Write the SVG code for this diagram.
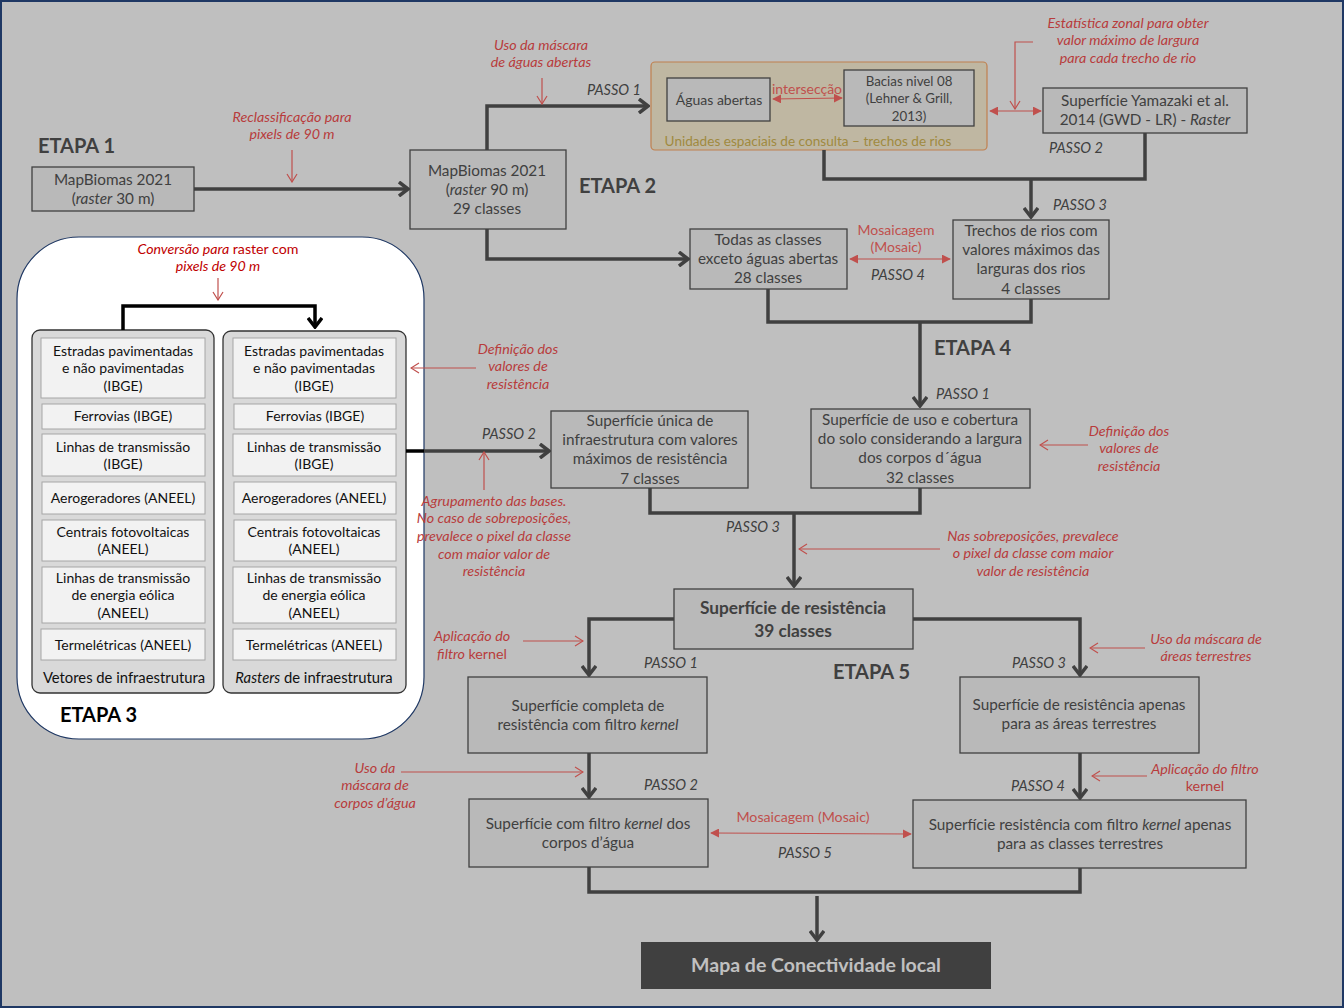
<svg xmlns="http://www.w3.org/2000/svg" width="1344" height="1008" viewBox="0 0 1344 1008">
<defs>
<style>
text{font-family:Lato,"Open Sans","Liberation Sans",sans-serif;}
.bg{fill:#bfbfbf;}
.node{fill:#b9b9b9;stroke:#404040;stroke-width:1.3;}
.t{font-size:15.3px;fill:#404040;text-anchor:middle;}
.ts{font-size:13.3px;fill:#404040;text-anchor:middle;}
.passo{font-size:14.5px;fill:#404040;font-style:italic;text-anchor:middle;}
.etapa{font-size:20px;font-weight:bold;fill:#404040;}
.red{font-size:14.3px;fill:#b83c3c;font-style:italic;text-anchor:middle;}
.conn{fill:none;stroke:#404040;stroke-width:3.5;}
.rc{fill:none;stroke:#c0504d;stroke-width:1.2;}
.inner{fill:#d9d9d9;stroke:#333;stroke-width:1.3;}
.item{fill:#f2f2f2;stroke:#a6a6a6;stroke-width:1;}
.it3{font-size:14px;fill:#111;text-anchor:middle;}
</style>
<marker id="ah" viewBox="0 0 12 16" refX="10" refY="8" markerWidth="12" markerHeight="16" markerUnits="userSpaceOnUse" orient="auto">
<polyline points="1,1 10,8 1,15" fill="none" stroke="#404040" stroke-width="3.5"/>
</marker>
<marker id="ahb" viewBox="0 0 12 16" refX="10" refY="8" markerWidth="12" markerHeight="16" markerUnits="userSpaceOnUse" orient="auto">
<polyline points="1,1 10,8 1,15" fill="none" stroke="#000" stroke-width="3.5"/>
</marker>
<marker id="ra" viewBox="0 0 10 12" refX="9" refY="6" markerWidth="10" markerHeight="12" markerUnits="userSpaceOnUse" orient="auto">
<polyline points="1,1 9,6 1,11" fill="none" stroke="#c0504d" stroke-width="1.2"/>
</marker>
<marker id="rf" viewBox="0 0 10 10" refX="9" refY="5" markerWidth="9" markerHeight="9" markerUnits="userSpaceOnUse" orient="auto-start-reverse">
<path d="M0,0 L10,5 L0,10 Z" fill="#c0504d"/>
</marker>
</defs>
<rect class="bg" x="0" y="0" width="1344" height="1008"/>
<rect x="1" y="1" width="1342" height="1006" fill="none" stroke="#1f3864" stroke-width="2"/>

<g id="etapa3">
<rect x="17" y="237" width="407" height="502" rx="62" fill="#fff" stroke="#1f3864" stroke-width="1.2"/>
<text x="60" y="722" class="etapa" style="fill:#000">ETAPA 3</text>
<text x="218" y="254" style="font-size:14.2px;fill:#c00000;text-anchor:middle"><tspan font-style="italic">Conversão para</tspan> raster com</text>
<text x="218" y="271" style="font-size:14.2px;fill:#c00000;text-anchor:middle;font-style:italic">pixels de 90  m</text>
</g>

<g id="vetores">
<rect class="inner" x="32" y="330" width="182" height="363" rx="8"/>
<rect class="item" x="41" y="338" width="164" height="60"/>
<text class="it3" x="123" y="356">Estradas pavimentadas</text>
<text class="it3" x="123" y="373">e não pavimentadas</text>
<text class="it3" x="123" y="391">(IBGE)</text>
<rect class="item" x="42" y="404" width="163" height="25"/>
<text class="it3" x="123" y="421">Ferrovias (IBGE)</text>
<rect class="item" x="42" y="434" width="163" height="42"/>
<text class="it3" x="123" y="452">Linhas de transmissão</text>
<text class="it3" x="123" y="469">(IBGE)</text>
<rect class="item" x="42" y="482" width="163" height="32"/>
<text class="it3" x="123" y="503">Aerogeradores (ANEEL)</text>
<rect class="item" x="42" y="520" width="163" height="41"/>
<text class="it3" x="123" y="537">Centrais fotovoltaicas</text>
<text class="it3" x="123" y="554">(ANEEL)</text>
<rect class="item" x="42" y="567" width="163" height="56"/>
<text class="it3" x="123" y="583">Linhas de transmissão</text>
<text class="it3" x="123" y="600">de energia eólica</text>
<text class="it3" x="123" y="618">(ANEEL)</text>
<rect class="item" x="41" y="629" width="164" height="31"/>
<text class="it3" x="123" y="650">Termelétricas (ANEEL)</text>
<text class="it3" x="124" y="683" style="font-size:14.8px">Vetores de infraestrutura</text>
</g>

<g id="rasters">
<rect class="inner" x="223" y="331" width="183" height="362" rx="8"/>
<rect class="item" x="233" y="338" width="163" height="60"/>
<text class="it3" x="314" y="356">Estradas pavimentadas</text>
<text class="it3" x="314" y="373">e não pavimentadas</text>
<text class="it3" x="314" y="391">(IBGE)</text>
<rect class="item" x="234" y="404" width="162" height="25"/>
<text class="it3" x="315" y="421">Ferrovias (IBGE)</text>
<rect class="item" x="233" y="434" width="163" height="42"/>
<text class="it3" x="314" y="452">Linhas de transmissão</text>
<text class="it3" x="314" y="469">(IBGE)</text>
<rect class="item" x="234" y="482" width="162" height="32"/>
<text class="it3" x="314" y="503">Aerogeradores (ANEEL)</text>
<rect class="item" x="234" y="520" width="162" height="41"/>
<text class="it3" x="314" y="537">Centrais fotovoltaicas</text>
<text class="it3" x="314" y="554">(ANEEL)</text>
<rect class="item" x="233" y="567" width="163" height="56"/>
<text class="it3" x="314" y="583">Linhas de transmissão</text>
<text class="it3" x="314" y="600">de energia eólica</text>
<text class="it3" x="314" y="618">(ANEEL)</text>
<rect class="item" x="233" y="629" width="163" height="31"/>
<text class="it3" x="314" y="650">Termelétricas (ANEEL)</text>
<text class="it3" x="314" y="683" style="font-size:14.8px"><tspan font-style="italic">Rasters</tspan> de infraestrutura</text>
</g>

<text class="etapa" x="38" y="153">ETAPA 1</text>
<text class="etapa" x="579" y="193">ETAPA 2</text>
<text class="etapa" x="934" y="355">ETAPA 4</text>
<text class="etapa" x="833" y="679">ETAPA 5</text>

<g id="mapbiomas30">
<rect class="node" x="32" y="167" width="162" height="44"/>
<text class="t" x="113" y="185">MapBiomas 2021</text>
<text class="t" x="113" y="204">(<tspan font-style="italic">raster</tspan> 30 m)</text>
</g>
<g id="mapbiomas90">
<rect class="node" x="410" y="150" width="156" height="79"/>
<text class="t" x="487" y="176">MapBiomas 2021</text>
<text class="t" x="487" y="195">(<tspan font-style="italic">raster</tspan> 90 m)</text>
<text class="t" x="487" y="214">29 classes</text>
</g>
<g id="unidades">
<rect x="651" y="62" width="336" height="88" rx="4" fill="#bfb7a2" stroke="#c0804f" stroke-width="1.2"/>
<text x="808" y="146" style="font-size:13.6px;fill:#a08a40;text-anchor:middle">Unidades espaciais de consulta – trechos de rios</text>
</g>
<g id="aguas">
<rect class="node" x="667" y="78" width="103" height="43"/>
<text class="t" x="719" y="105" style="font-size:14px">Águas abertas</text>
</g>
<g id="bacias">
<rect class="node" x="844" y="70" width="130" height="56"/>
<text class="ts" x="909" y="86">Bacias nivel 08</text>
<text class="ts" x="909" y="103">(Lehner &amp; Grill,</text>
<text class="ts" x="909" y="121">2013)</text>
</g>
<g id="yamazaki">
<rect class="node" x="1043" y="88" width="204" height="45"/>
<text class="t" x="1145" y="106">Superfície Yamazaki et al.</text>
<text class="t" x="1145" y="125">2014 (GWD - LR) - <tspan font-style="italic">Raster</tspan></text>
</g>
<g id="todas">
<rect class="node" x="690" y="229" width="157" height="60"/>
<text class="t" x="768" y="245">Todas as classes</text>
<text class="t" x="768" y="264">exceto águas abertas</text>
<text class="t" x="768" y="283">28 classes</text>
</g>
<g id="trechos">
<rect class="node" x="953" y="220" width="156" height="79"/>
<text class="t" x="1031" y="236">Trechos de rios com</text>
<text class="t" x="1031" y="255">valores máximos das</text>
<text class="t" x="1031" y="274">larguras dos rios</text>
<text class="t" x="1031" y="294">4 classes</text>
</g>
<g id="usocobertura">
<rect class="node" x="811" y="409" width="219" height="79"/>
<text class="t" x="920" y="425">Superfície de uso e cobertura</text>
<text class="t" x="920" y="444">do solo considerando  a largura</text>
<text class="t" x="920" y="463">dos corpos d´água</text>
<text class="t" x="920" y="483">32 classes</text>
</g>
<g id="unica">
<rect class="node" x="551" y="411" width="197" height="77"/>
<text class="t" x="650" y="426">Superfície única de</text>
<text class="t" x="650" y="445">infraestrutura com valores</text>
<text class="t" x="650" y="464">máximos de resistência</text>
<text class="t" x="650" y="484">7 classes</text>
</g>
<g id="resistencia">
<rect class="node" x="674" y="589" width="239" height="60"/>
<text class="t" x="793" y="614" style="font-weight:bold;font-size:17.3px">Superfície de resistência</text>
<text class="t" x="793" y="637" style="font-weight:bold;font-size:17.3px">39 classes</text>
</g>
<g id="completa">
<rect class="node" x="468" y="677" width="239" height="76"/>
<text class="t" x="588" y="711">Superfície completa de</text>
<text class="t" x="588" y="730">resistência com filtro <tspan font-style="italic">kernel</tspan></text>
</g>
<g id="terrestres">
<rect class="node" x="960" y="677" width="239" height="76"/>
<text class="t" x="1079" y="710">Superfície de resistência apenas</text>
<text class="t" x="1079" y="729">para as áreas terrestres</text>
</g>
<g id="filtrocorpos">
<rect class="node" x="469" y="799" width="239" height="68"/>
<text class="t" x="588" y="829">Superfície com filtro <tspan font-style="italic">kernel</tspan> dos</text>
<text class="t" x="588" y="848">corpos d’água</text>
</g>
<g id="filtroterrestres">
<rect class="node" x="913" y="800" width="333" height="68"/>
<text class="t" x="1080" y="830">Superfície resistência com filtro <tspan font-style="italic">kernel</tspan> apenas</text>
<text class="t" x="1080" y="849">para as classes terrestres</text>
</g>
<g id="mapa">
<rect x="641" y="942" width="350" height="47" fill="#404040"/>
<text x="816" y="972" style="font-size:19.5px;font-weight:bold;fill:#c0c0c0;text-anchor:middle">Mapa  de Conectividade  local</text>
</g>

<g id="connectors">
<line class="conn" x1="194" y1="189" x2="408" y2="189" marker-end="url(#ah)"/>
<polyline class="conn" points="487,150 487,106 648,106" marker-end="url(#ah)"/>
<polyline class="conn" points="1145,133 1145,179 824,179 824,150"/>
<line class="conn" x1="1031" y1="179" x2="1031" y2="217" marker-end="url(#ah)"/>
<polyline class="conn" points="487,229 487,259 688,259" marker-end="url(#ah)"/>
<polyline class="conn" points="768,289 768,322 1031,322 1031,299"/>
<line class="conn" x1="920" y1="322" x2="920" y2="406" marker-end="url(#ah)"/>
<polyline points="123,330 123,306 315,306 315,327" fill="none" stroke="#000" stroke-width="3.5" marker-end="url(#ahb)"/>
<line x1="406" y1="451" x2="424" y2="451" stroke="#000" stroke-width="3.5"/>
<line class="conn" x1="424" y1="451" x2="549" y2="451" marker-end="url(#ah)"/>
<polyline class="conn" points="650,488 650,513 920,513 920,488"/>
<line class="conn" x1="794" y1="513" x2="794" y2="586" marker-end="url(#ah)"/>
<polyline class="conn" points="674,619 589,619 589,675" marker-end="url(#ah)"/>
<polyline class="conn" points="913,619 1080,619 1080,675" marker-end="url(#ah)"/>
<line class="conn" x1="589" y1="753" x2="589" y2="797" marker-end="url(#ah)"/>
<line class="conn" x1="1080" y1="753" x2="1080" y2="798" marker-end="url(#ah)"/>
<polyline class="conn" points="589,867 589,892 1080,892 1080,868"/>
<line class="conn" x1="817" y1="896" x2="817" y2="940" marker-end="url(#ah)"/>
<line class="rc" x1="773" y1="99" x2="842" y2="98" marker-start="url(#rf)" marker-end="url(#rf)"/>
<line class="rc" x1="990" y1="111" x2="1041" y2="111" marker-start="url(#rf)" marker-end="url(#rf)"/>
<line class="rc" x1="850" y1="259" x2="950" y2="259" marker-start="url(#rf)" marker-end="url(#rf)"/>
<line class="rc" x1="711" y1="833" x2="911" y2="834" marker-start="url(#rf)" marker-end="url(#rf)"/>
<line class="rc" x1="292" y1="150" x2="292" y2="182" marker-end="url(#ra)"/>
<line class="rc" x1="542" y1="78" x2="542" y2="104" marker-end="url(#ra)"/>
<polyline class="rc" points="1033,42 1015,42 1015,109" marker-end="url(#ra)"/>
<line class="rc" x1="218" y1="278" x2="218" y2="300" marker-end="url(#ra)"/>
<line class="rc" x1="476" y1="368" x2="411" y2="368" marker-end="url(#ra)"/>
<line class="rc" x1="484" y1="490" x2="484" y2="452" marker-end="url(#ra)"/>
<line class="rc" x1="1088" y1="445" x2="1040" y2="445" marker-end="url(#ra)"/>
<line class="rc" x1="940" y1="549" x2="799" y2="549" marker-end="url(#ra)"/>
<line class="rc" x1="523" y1="641" x2="583" y2="641" marker-end="url(#ra)"/>
<line class="rc" x1="1145" y1="648" x2="1090" y2="648" marker-end="url(#ra)"/>
<line class="rc" x1="401" y1="772" x2="583" y2="772" marker-end="url(#ra)"/>
<line class="rc" x1="1147" y1="776" x2="1092" y2="776" marker-end="url(#ra)"/>
</g>

<text class="passo" x="614" y="95">PASSO  1</text>
<text class="passo" x="1076" y="153">PASSO  2</text>
<text class="passo" x="1080" y="210">PASSO  3</text>
<text class="passo" x="898" y="280">PASSO  4</text>
<text class="passo" x="963" y="399">PASSO  1</text>
<text class="passo" x="509" y="439">PASSO  2</text>
<text class="passo" x="753" y="532">PASSO  3</text>
<text class="passo" x="671" y="668">PASSO  1</text>
<text class="passo" x="1039" y="668">PASSO  3</text>
<text class="passo" x="671" y="790">PASSO  2</text>
<text class="passo" x="1038" y="791">PASSO  4</text>
<text class="passo" x="805" y="858">PASSO  5</text>

<text class="red" x="292" y="122">Reclassificação  para</text>
<text class="red" x="292" y="139">pixels de 90  m</text>
<text class="red" x="541" y="50">Uso da máscara</text>
<text class="red" x="541" y="67">de águas abertas</text>
<text x="807" y="94" style="font-size:14px;fill:#c0504d;text-anchor:middle">intersecção</text>
<text class="red" x="1128" y="28">Estatística zonal para obter</text>
<text class="red" x="1128" y="45">valor máximo de largura</text>
<text class="red" x="1128" y="63">para cada trecho de rio</text>
<text x="896" y="235" style="font-size:14px;fill:#c0504d;text-anchor:middle">Mosaicagem</text>
<text x="896" y="252" style="font-size:14px;fill:#c0504d;text-anchor:middle">(Mosaic)</text>
<text class="red" x="518" y="354">Definição dos</text>
<text class="red" x="518" y="371">valores de</text>
<text class="red" x="518" y="389">resistência</text>
<text class="red" x="494" y="506">Agrupamento das bases.</text>
<text class="red" x="494" y="523">No caso de sobreposições,</text>
<text class="red" x="494" y="541">prevalece o pixel da classe</text>
<text class="red" x="494" y="559">com maior valor de</text>
<text class="red" x="494" y="576">resistência</text>
<text class="red" x="1129" y="436">Definição dos</text>
<text class="red" x="1129" y="453">valores de</text>
<text class="red" x="1129" y="471">resistência</text>
<text class="red" x="1033" y="541">Nas sobreposições, prevalece</text>
<text class="red" x="1033" y="558">o pixel da classe com maior</text>
<text class="red" x="1033" y="576">valor de resistência</text>
<text class="red" x="472" y="641">Aplicação do</text>
<text class="red" x="472" y="659">filtro <tspan font-style="normal">kernel</tspan></text>
<text class="red" x="1206" y="644">Uso da máscara de</text>
<text class="red" x="1206" y="661">áreas terrestres</text>
<text class="red" x="375" y="773">Uso da</text>
<text class="red" x="375" y="790">máscara de</text>
<text class="red" x="375" y="808">corpos d’água</text>
<text class="red" x="1205" y="774">Aplicação do filtro</text>
<text class="red" x="1205" y="791" style="font-style:normal">kernel</text>
<text x="803" y="822" style="font-size:14.2px;fill:#c0504d;text-anchor:middle">Mosaicagem  (Mosaic)</text>
</svg>
